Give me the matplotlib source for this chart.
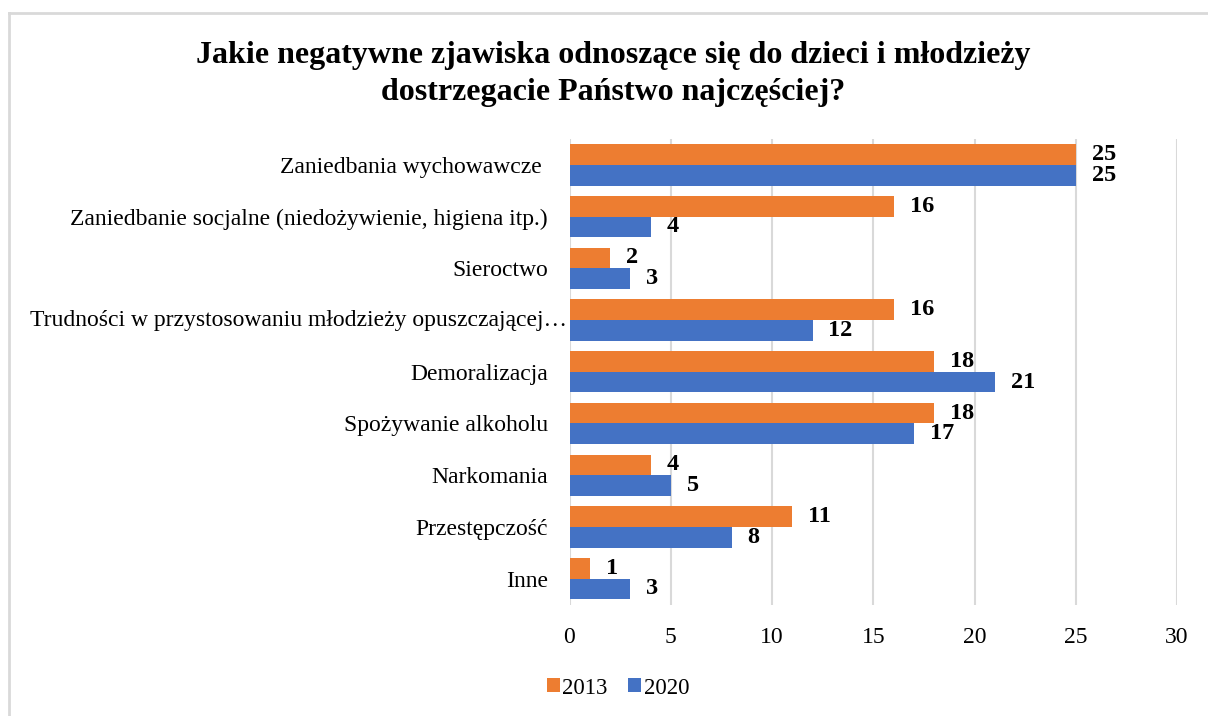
import matplotlib
matplotlib.use("Agg")
import matplotlib.pyplot as plt
from matplotlib.lines import Line2D
from matplotlib.patches import Patch
import numpy as np

plt.rcParams['font.family'] = ['Liberation Serif', 'DejaVu Serif']

categories = [
    "Zaniedbania wychowawcze ",
    "Zaniedbanie socjalne (niedożywienie, higiena itp.)",
    "Sieroctwo",
    "Trudności w przystosowaniu młodzieży opuszczającej…",
    "Demoralizacja",
    "Spożywanie alkoholu",
    "Narkomania",
    "Przestępczość",
    "Inne",
]
values_2013 = [25, 16, 2, 16, 18, 18, 4, 11, 1]
values_2020 = [25, 4, 3, 12, 21, 17, 5, 8, 3]
series_names = ["2013", "2020"]
xticks = [0, 5, 10, 15, 20, 25, 30]

title = "Jakie negatywne zjawiska odnoszące się do dzieci i młodzieży\ndostrzegacie Państwo najczęściej?"

C2013 = "#ED7D31"
C2020 = "#4472C4"

W, H = 1208, 716
fig = plt.figure(figsize=(W / 100, H / 100), dpi=100)

left, right, top, bottom = 569.5, 1177, 139, 604.5
ax = fig.add_axes([left / W, 1 - bottom / H, (right - left) / W, (bottom - top) / H])

n = len(categories)
y = np.arange(n)
bh = 0.4
ax.barh(y - bh / 2, values_2013, height=bh, color=C2013, zorder=3)
ax.barh(y + bh / 2, values_2020, height=bh, color=C2020, zorder=3)

for yi, v in zip(y, values_2013):
    ax.annotate(str(v), (v, yi - bh / 2), xytext=(16, 0), textcoords="offset pixels",
                va="center", ha="left", fontsize=17.5, fontweight="bold")
for yi, v in zip(y, values_2020):
    ax.annotate(str(v), (v, yi + bh / 2), xytext=(16, 0), textcoords="offset pixels",
                va="center", ha="left", fontsize=17.5, fontweight="bold")

ax.set_ylim(n - 0.5, -0.5)
ax.set_xlim(0, 30)
ax.set_xticks(xticks)
ax.set_xticklabels([str(t) for t in xticks], fontsize=17)
ax.set_yticks(y)
# the truncated long label sits closer to the axis in the reference
long_idx = 3
ax.set_yticklabels([c if i != long_idx else "" for i, c in enumerate(categories)], fontsize=17)
ax.annotate(categories[long_idx], (0, long_idx), xytext=(-3, 0), textcoords="offset pixels",
            ha="right", va="center", fontsize=17, annotation_clip=False)
ax.tick_params(axis="both", length=0)
ax.tick_params(axis="x", pad=16)
ax.tick_params(axis="y", pad=15.5)
ax.xaxis.grid(True, color="#D9D9D9", linewidth=1.5, zorder=0)
ax.set_axisbelow(True)
for s in ax.spines.values():
    s.set_visible(False)

fig.text(613 / W, 1 - 74 / H, title, ha="center", va="center", fontsize=23,
         fontweight="bold", linespacing=1.34)

handles = [Patch(facecolor=C2013), Patch(facecolor=C2020)]
fig.legend(handles, series_names, loc="center", bbox_to_anchor=(618 / W, 1 - 688 / H),
           ncol=2, frameon=False, fontsize=16.5, handlelength=0.55, handleheight=0.55,
           handletextpad=0.12, columnspacing=0.9, borderpad=0)

fig.add_artist(Line2D([9 / W, 9 / W], [0, 1 - 12.5 / H], color="#D9D9D9", linewidth=2))
fig.add_artist(Line2D([9 / W, 1], [1 - 12.5 / H, 1 - 12.5 / H], color="#D9D9D9", linewidth=2))

fig.savefig("out.png", dpi=100)
